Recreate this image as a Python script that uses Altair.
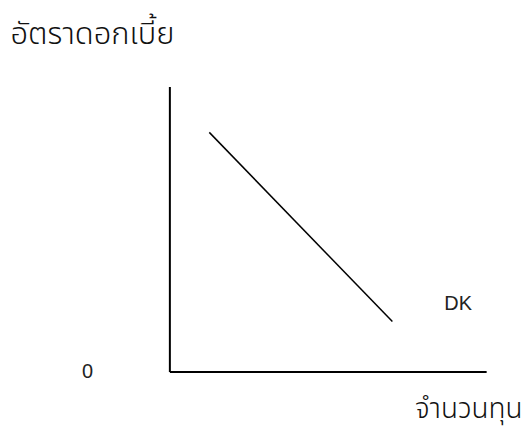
import altair as alt
import pandas as pd

# Demand-for-capital line DK (schematic, arbitrary units)
capital = [12.6, 70.4]
interest = [83.9, 17.5]
curve_label = ["", "DK"]

y_title = "อัตราดอกเบี้ย"
x_title = "จำนวนทุน"
origin_label = [0]

df = pd.DataFrame({"capital": capital, "interest": interest, "label": curve_label})

THAI = "Noto Sans Thai, Noto Sans, sans-serif"
LATIN = "Liberation Sans, Arial, sans-serif"

x_enc = alt.X("capital:Q", scale=alt.Scale(domain=[0, 100], nice=False, zero=False),
              axis=alt.Axis(title=x_title, labels=False, ticks=False, grid=False,
                            domainColor="black", domainWidth=2,
                            titleFont=THAI, titleFontSize=28, titleFontWeight=300,
                            titleColor="#111111", titleAlign="left", titleAnchor="start",
                            titleX=246, titleY=46, titleBaseline="alphabetic"))
y_enc = alt.Y("interest:Q", scale=alt.Scale(domain=[0, 100], nice=False, zero=False),
              axis=alt.Axis(title=y_title, values=origin_label, ticks=False, grid=False,
                            domainColor="black", domainWidth=2,
                            labelFont=LATIN, labelFontSize=20, labelColor="#222222",
                            labelPadding=77, labelBaseline="middle",
                            titleFont=THAI, titleFontSize=31, titleFontWeight=300,
                            titleColor="#111111", titleAngle=0, titleAlign="left",
                            titleX=-160, titleY=-43, titleBaseline="alphabetic"))

line = alt.Chart(df).mark_line(color="black", strokeWidth=1.5).encode(x=x_enc, y=y_enc)

text = alt.Chart(df).mark_text(font=LATIN, fontSize=20, color="#222222", dx=66, dy=-18,
                               align="center", baseline="middle").encode(
    x="capital:Q", y="interest:Q", text="label:N")

chart = (line + text).properties(
    width=318, height=286,
    autosize=alt.AutoSizeParams(type="none"),
    padding={"left": 162, "top": 78, "right": 38, "bottom": 62},
).configure_view(stroke=None)

chart.save("out.html", embed_options={"renderer": "svg", "actions": False})
